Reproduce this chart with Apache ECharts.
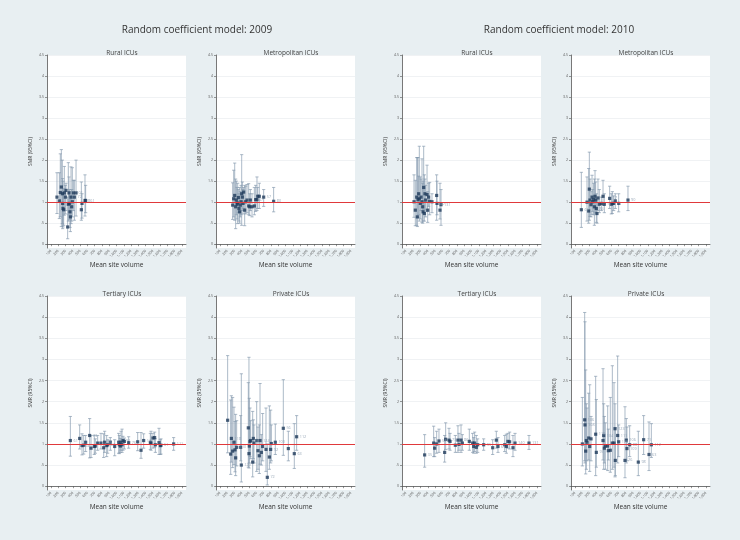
<!DOCTYPE html>
<html>
<head>
<meta charset="utf-8">
<script src="https://cdn.jsdelivr.net/npm/echarts@6/dist/echarts.min.js"></script>
<style>
  html, body { margin: 0; padding: 0; background: #e8eff2; }
  #main { width: 740px; height: 540px; }
</style>
</head>
<body>
<div id="main"></div>
<script>
// tick labels
var ticksX = [100, 200, 300, 400, 500, 600, 700, 800, 900, 1000, 1100, 1200, 1300, 1400, 1500, 1600, 1700, 1800, 1900];
var ticksY = [0, 0.5, 1, 1.5, 2, 2.5, 3, 3.5, 4, 4.5];

// [mean site volume, SMR, lower 95%CI, upper 95%CI, site label]
var rural2009 = [
    [182, 1.12, 0.73, 1.70], [215, 1.03, 0.61, 1.70], [228, 1.23, 0.65, 2.15], [242, 1.36, 0.42, 2.25],
    [256, 1.20, 0.49, 2.00], [260, 0.97, 0.37, 1.56], [265, 0.85, 0.41, 1.50], [274, 0.82, 0.45, 1.32],
    [283, 1.22, 0.69, 1.85], [297, 1.12, 0.72, 1.40], [306, 1.28, 0.80, 1.45], [329, 0.41, 0.13, 1.12],
    [338, 0.95, 0.55, 1.94], [347, 1.22, 0.70, 1.60], [352, 0.97, 0.58, 1.30], [361, 0.77, 0.40, 1.25],
    [366, 0.65, 0.30, 1.15], [375, 1.12, 0.49, 1.84], [384, 0.89, 0.55, 1.30], [393, 1.01, 0.65, 1.82],
    [407, 1.22, 0.80, 1.52, '101'], [421, 1.12, 0.57, 1.52, '72'], [444, 1.22, 0.67, 2.00],
    [517, 0.82, 0.57, 1.48], [526, 0.97, 0.62, 1.20], [567, 1.04, 0.67, 1.65, '861'], [576, 1.04, 0.75, 1.40]
];
var metro2009 = [
    [274, 0.93, 0.59, 1.46], [288, 1.08, 0.65, 1.76], [302, 1.16, 0.57, 1.93], [315, 0.89, 0.37, 1.55],
    [324, 1.05, 0.70, 1.50], [334, 0.95, 0.60, 1.35], [343, 0.98, 0.49, 1.45], [352, 1.11, 0.75, 1.30],
    [361, 0.85, 0.55, 1.20], [370, 0.77, 0.50, 1.35], [379, 0.93, 0.65, 1.25], [389, 1.01, 0.70, 1.40],
    [398, 1.20, 0.45, 2.13], [407, 1.12, 0.80, 1.48], [416, 0.97, 0.72, 1.30], [425, 1.24, 0.85, 1.35],
    [439, 0.81, 0.44, 1.40], [453, 1.01, 0.72, 1.38], [471, 1.05, 0.75, 1.42], [494, 0.91, 0.70, 1.44],
    [508, 0.89, 0.68, 1.20], [517, 1.05, 0.80, 1.30], [540, 0.89, 0.65, 1.20], [572, 0.91, 0.70, 1.35],
    [590, 1.06, 0.78, 1.40, '47'], [608, 1.06, 0.80, 1.60], [618, 1.14, 0.85, 1.35], [640, 1.14, 0.85, 1.45],
    [700, 1.12, 0.90, 1.30, '57'], [837, 1.02, 0.77, 1.35, '80']
];
var tert2009 = [
    [366, 1.08, 0.71, 1.65, '61'], [494, 1.13, 0.88, 1.45], [526, 0.96, 0.74, 1.24, '54'], [549, 0.97, 0.76, 1.20],
    [576, 1.04, 0.82, 1.20], [631, 1.20, 0.67, 1.60, '73'], [650, 0.90, 0.68, 1.20], [695, 0.94, 0.75, 1.20],
    [709, 0.95, 0.78, 1.12], [741, 1.02, 0.85, 1.20], [787, 1.02, 0.88, 1.25], [824, 0.91, 0.68, 1.24],
    [837, 1.04, 0.80, 1.30, '86'], [865, 0.96, 0.70, 1.20], [879, 0.98, 0.78, 1.10, '67'], [915, 1.04, 0.85, 1.15],
    [975, 0.94, 0.72, 1.10], [1030, 1.04, 0.78, 1.25], [1039, 0.98, 0.77, 1.20], [1053, 0.95, 0.80, 1.13],
    [1062, 1.04, 0.85, 1.30], [1076, 0.98, 0.80, 1.35], [1089, 1.08, 0.85, 1.18, '91'], [1108, 1.06, 0.88, 1.14],
    [1167, 1.03, 0.90, 1.17, '76'], [1291, 1.05, 0.84, 1.27], [1337, 0.85, 0.66, 1.27], [1373, 1.08, 0.90, 1.24, '120'],
    [1465, 1.04, 0.87, 1.25], [1474, 1.02, 0.85, 1.30], [1501, 1.14, 0.90, 1.25], [1524, 1.15, 0.92, 1.28],
    [1534, 0.98, 0.80, 1.12], [1584, 1.03, 0.75, 1.37], [1602, 0.96, 0.75, 1.10], [1611, 0.97, 0.76, 1.12, '61'],
    [1785, 1.00, 0.85, 1.15, '111']
];
var priv2009 = [
    [205, 1.56, 0.79, 3.09], [247, 0.76, 0.28, 2.04], [256, 1.13, 0.57, 2.14, '118'], [274, 0.83, 0.44, 2.10],
    [292, 1.04, 0.51, 1.87], [306, 0.86, 0.34, 1.53], [315, 0.67, 0.25, 1.70], [329, 0.92, 0.48, 1.55, '110'],
    [384, 0.92, 0.60, 1.67], [393, 0.50, 0.10, 2.66, '120'], [489, 1.38, 0.45, 2.45], [498, 0.77, 0.43, 3.05],
    [503, 0.95, 0.55, 2.08], [512, 1.06, 0.70, 1.85], [521, 1.08, 0.65, 1.55, '93'], [549, 0.57, 0.22, 1.77],
    [558, 1.13, 0.65, 1.57], [567, 1.02, 0.55, 1.45], [604, 1.08, 0.35, 2.00], [622, 0.84, 0.40, 1.40],
    [640, 0.72, 0.30, 1.45], [650, 1.08, 0.52, 2.43, '124'], [668, 0.80, 0.50, 1.22], [686, 0.94, 0.60, 1.72],
    [732, 0.87, 0.35, 1.85], [750, 0.21, 0.03, 1.00, '72'], [778, 0.69, 0.40, 1.90], [796, 0.87, 0.55, 1.80, '92'],
    [805, 1.01, 0.60, 1.45], [860, 1.04, 0.75, 1.47, '100'], [970, 1.37, 0.73, 2.52, '56'], [1039, 0.89, 0.60, 1.30],
    [1121, 0.77, 0.42, 1.48, '63'], [1153, 1.17, 0.85, 1.67, '112']
];
var rural2010 = [
    [210, 1.01, 0.64, 1.65], [228, 0.81, 0.44, 1.52], [247, 1.12, 0.45, 2.06], [256, 0.65, 0.42, 2.06],
    [265, 1.06, 0.63, 2.06], [274, 1.20, 0.70, 1.62], [283, 1.08, 0.55, 2.33], [297, 0.97, 0.60, 1.60],
    [306, 1.12, 0.80, 1.55], [320, 1.01, 0.52, 2.03], [329, 0.89, 0.50, 1.45], [334, 0.77, 0.55, 1.50],
    [343, 1.35, 0.75, 2.33], [352, 0.73, 0.55, 1.65], [361, 1.20, 0.82, 1.55], [370, 1.05, 0.65, 1.40],
    [389, 1.18, 0.78, 1.88], [398, 0.81, 0.52, 1.25], [411, 1.12, 0.90, 1.45], [425, 1.02, 0.70, 1.47],
    [457, 1.01, 0.75, 1.20], [521, 1.16, 0.57, 1.65], [526, 0.97, 0.70, 1.50, '40'], [567, 0.81, 0.60, 1.45],
    [581, 0.94, 0.45, 1.30, '131']
];
var metro2010 = [
    [187, 0.82, 0.40, 1.71, '61'], [265, 1.00, 0.55, 1.60], [288, 0.79, 0.50, 1.80], [297, 1.31, 0.57, 2.19],
    [306, 1.05, 0.66, 1.55], [320, 0.94, 0.65, 1.25], [334, 1.12, 0.71, 1.64], [343, 1.01, 0.78, 1.30],
    [356, 1.06, 0.70, 1.45], [366, 0.89, 0.45, 1.55], [375, 1.14, 0.75, 1.75], [384, 1.05, 0.72, 1.48],
    [393, 0.85, 0.52, 1.20, '84'], [402, 0.73, 0.50, 1.05], [416, 1.10, 0.80, 1.55], [434, 0.95, 0.75, 1.30],
    [462, 0.97, 0.80, 1.12], [485, 1.14, 0.92, 1.52], [503, 0.95, 0.75, 1.20, '57'], [576, 1.09, 0.85, 1.38, '17'],
    [599, 0.95, 0.72, 1.20], [613, 0.97, 0.73, 1.25], [631, 0.97, 0.80, 1.15, '75'], [654, 1.03, 0.85, 1.20],
    [700, 0.97, 0.77, 1.20], [828, 1.05, 0.80, 1.38, '90']
];
var tert2010 = [
    [356, 0.74, 0.45, 1.22, '35'], [480, 1.02, 0.70, 1.42], [494, 0.90, 0.70, 1.15], [521, 1.00, 0.78, 1.30],
    [553, 1.07, 0.80, 1.35, '54'], [631, 0.80, 0.57, 1.20], [645, 1.11, 0.87, 1.50], [691, 1.09, 0.88, 1.37, '73'],
    [705, 1.06, 0.85, 1.25], [778, 0.97, 0.80, 1.20], [814, 1.09, 0.80, 1.43], [828, 0.99, 0.85, 1.25],
    [856, 1.09, 0.80, 1.45, '86'], [874, 1.02, 0.85, 1.22], [970, 1.06, 0.85, 1.35], [1016, 1.02, 0.80, 1.25],
    [1030, 0.94, 0.78, 1.15], [1043, 1.02, 0.82, 1.28], [1066, 0.92, 0.78, 1.20], [1085, 0.98, 0.80, 1.12],
    [1167, 0.98, 0.85, 1.12, '95'], [1291, 0.91, 0.75, 1.10], [1341, 1.09, 0.90, 1.30], [1364, 0.94, 0.80, 1.15, '63'],
    [1456, 0.98, 0.82, 1.20], [1479, 0.94, 0.78, 1.23], [1501, 1.06, 0.90, 1.25], [1524, 1.05, 0.88, 1.28],
    [1570, 0.91, 0.70, 1.20], [1598, 1.02, 0.85, 1.25, '140'], [1790, 1.02, 0.87, 1.20, '131']
];
var priv2010 = [
    [201, 1.00, 0.48, 2.10], [233, 1.57, 0.60, 4.11, '106'], [237, 1.45, 0.55, 3.89, '108'], [247, 0.83, 0.29, 2.75],
    [256, 1.08, 0.40, 1.95], [265, 1.04, 0.60, 1.85], [288, 1.14, 0.62, 2.20], [302, 0.94, 0.35, 2.40],
    [320, 1.12, 0.60, 1.65], [384, 1.23, 0.25, 2.60, '118'], [393, 0.80, 0.45, 2.05, '97'], [485, 1.08, 0.62, 2.78],
    [494, 1.20, 0.40, 1.95, '104'], [503, 0.90, 0.55, 1.65], [517, 0.95, 0.40, 1.50], [549, 0.95, 0.37, 1.90],
    [558, 0.84, 0.62, 1.35], [585, 0.85, 0.33, 2.10], [613, 1.02, 0.40, 2.85], [636, 1.02, 0.45, 2.45],
    [650, 1.36, 0.22, 1.95, '123'], [654, 0.61, 0.25, 1.38], [686, 1.20, 0.55, 3.08, '111'], [700, 1.05, 0.70, 1.45, '128'],
    [787, 0.61, 0.20, 1.88, '26'], [805, 1.09, 0.55, 1.60, '106'], [814, 0.89, 0.60, 1.40, '109'], [851, 0.98, 0.70, 1.43, '88'],
    [970, 0.57, 0.25, 1.30, '98'], [1043, 1.10, 0.75, 1.67, '71'], [1117, 0.75, 0.37, 1.52, '63'], [1149, 0.98, 0.68, 1.48, '112']
];

var panels = [
    { name: 'Rural ICUs', data: rural2009, left: 47, top: 55, height: 193 },
    { name: 'Metropolitan ICUs', data: metro2009, left: 216, top: 55, height: 193 },
    { name: 'Tertiary ICUs', data: tert2009, left: 47, top: 296, height: 194 },
    { name: 'Private ICUs', data: priv2009, left: 216, top: 296, height: 194 },
    { name: 'Rural ICUs', data: rural2010, left: 402, top: 55, height: 193 },
    { name: 'Metropolitan ICUs', data: metro2010, left: 571, top: 55, height: 193 },
    { name: 'Tertiary ICUs', data: tert2010, left: 402, top: 296, height: 194 },
    { name: 'Private ICUs', data: priv2010, left: 571, top: 296, height: 194 }
];

var FONT = 'Open Sans';
var WHISKER = '#8499ad';

function renderBar(params, api) {
    var x = api.value(0);
    var lo = api.coord([x, api.value(2)]);
    var hi = api.coord([x, api.value(3)]);
    var c = 1.6;
    var st = { stroke: WHISKER, lineWidth: 0.8, opacity: 0.85 };
    return {
        type: 'group',
        children: [
            { type: 'line', shape: { x1: lo[0], y1: lo[1], x2: hi[0], y2: hi[1] }, style: st },
            { type: 'line', shape: { x1: lo[0] - c, y1: lo[1], x2: lo[0] + c, y2: lo[1] }, style: st },
            { type: 'line', shape: { x1: hi[0] - c, y1: hi[1], x2: hi[0] + c, y2: hi[1] }, style: st }
        ]
    };
}

var titles = [
    { text: 'Random coefficient model: 2009', left: 192, top: 20, textAlign: 'center',
      textStyle: { fontFamily: FONT, fontSize: 10, fontWeight: 'normal', color: '#333' } },
    { text: 'Random coefficient model: 2010', left: 554, top: 20, textAlign: 'center',
      textStyle: { fontFamily: FONT, fontSize: 10, fontWeight: 'normal', color: '#333' } }
];
var grids = [], xAxes = [], yAxes = [], series = [];

panels.forEach(function (p, i) {
    titles.push({
        text: p.name, left: p.left + 70, top: p.top - 10, textAlign: 'center',
        textStyle: { fontFamily: FONT, fontSize: 6.5, fontWeight: 'normal', color: '#444' }
    });
    grids.push({
        left: p.left, top: p.top, width: 139, height: p.height,
        show: true, backgroundColor: '#ffffff', borderWidth: 0
    });
    xAxes.push({
        type: 'value', gridIndex: i, min: 45, max: 1955,
        name: 'Mean site volume', nameLocation: 'middle', nameGap: 13,
        nameTextStyle: { fontFamily: FONT, fontSize: 6.5, color: '#333' },
        axisLine: { lineStyle: { color: '#555', width: 0.8 } },
        axisTick: { customValues: ticksX, length: 2, lineStyle: { color: '#555', width: 0.6 } },
        axisLabel: { customValues: ticksX, rotate: 45, fontSize: 3.5, margin: 2.5, color: '#555', fontFamily: FONT },
        splitLine: { show: false }
    });
    yAxes.push({
        type: 'value', gridIndex: i, min: -0.09, max: 4.5,
        name: 'SMR (95%CI)', nameLocation: 'middle', nameGap: 14, nameRotate: 90,
        nameTextStyle: { fontFamily: FONT, fontSize: 5, color: '#333' },
        axisLine: { show: true, lineStyle: { color: '#555', width: 0.8 } },
        axisTick: { show: true, customValues: ticksY, length: 2, lineStyle: { color: '#555', width: 0.6 } },
        axisLabel: {
            customValues: ticksY, fontSize: 3.5, margin: 3, color: '#555', fontFamily: FONT,
            formatter: function (v) { return v === 0.5 ? '.5' : String(v); }
        },
        splitLine: { show: true, lineStyle: { color: '#eceff1', width: 0.8 } }
    });
    series.push({
        type: 'custom', xAxisIndex: i, yAxisIndex: i,
        renderItem: renderBar,
        encode: { x: 0, y: [2, 3] },
        data: p.data.map(function (r) { return [r[0], r[1], r[2], r[3]]; }),
        silent: true, z: 2
    });
    series.push({
        type: 'scatter', xAxisIndex: i, yAxisIndex: i,
        symbol: 'rect', symbolSize: 3.2,
        itemStyle: { color: '#1e3a5a' },
        data: p.data.map(function (r) { return { value: [r[0], r[1]], name: r[4] || '' }; }),
        label: {
            show: true, position: 'right', distance: 1.5, formatter: '{b}',
            fontSize: 3.8, color: '#7f93a8', fontFamily: FONT
        },
        markLine: {
            silent: true, symbol: 'none', label: { show: false },
            lineStyle: { color: '#e0393b', width: 1, type: 'solid' },
            data: [{ yAxis: 1 }]
        },
        z: 3
    });
});

var myChart = echarts.init(document.getElementById('main'));
myChart.setOption({
    backgroundColor: '#e8eff2',
    animation: false,
    title: titles,
    grid: grids,
    xAxis: xAxes,
    yAxis: yAxes,
    series: series
});
</script>
</body>
</html>
